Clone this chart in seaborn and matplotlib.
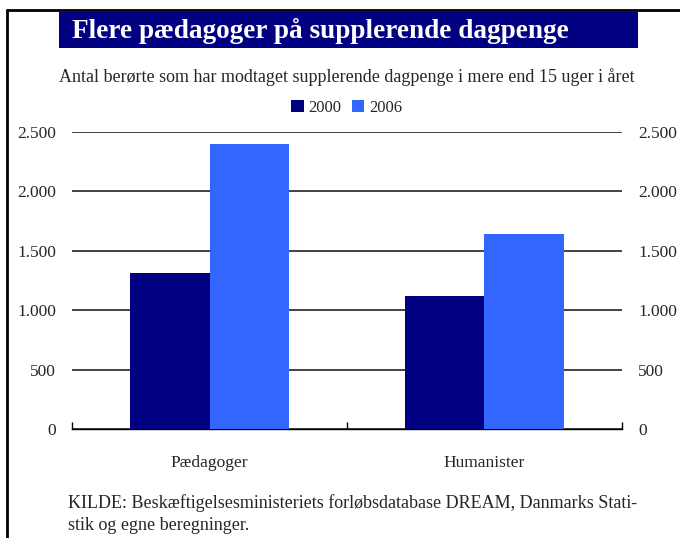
import pandas as pd
import seaborn as sns
import matplotlib.pyplot as plt
from matplotlib.patches import Rectangle, Patch
from matplotlib.lines import Line2D
from matplotlib.ticker import FuncFormatter, FixedLocator

# Data
groups = ["Pædagoger", "Humanister"]
years = ["2000", "2006"]
values_2000 = [1310, 1120]
values_2006 = [2400, 1640]
yticks = [0, 500, 1000, 1500, 2000, 2500]

df = pd.DataFrame({
    "Gruppe": groups * 2,
    "År": [years[0]] * 2 + [years[1]] * 2,
    "Antal": values_2000 + values_2006,
})

colors = {"2000": "#000080", "2006": "#3366FF"}

sns.set_style("white")
plt.rcParams["font.family"] = ["Liberation Serif", "DejaVu Serif"]

fig = plt.figure(figsize=(6.8, 5.38), dpi=100)
ax = fig.add_axes([0.1059, 0.2026, 0.8088, 0.552])

sns.barplot(data=df, x="Gruppe", y="Antal", hue="År", palette=colors,
            width=0.58, saturation=1, ax=ax, legend=False, zorder=3,
            linewidth=0, edgecolor="none")

ax.set_xlim(-0.5, 1.5)
ax.set_ylim(0, 2500)
ax.yaxis.set_major_locator(FixedLocator(yticks))
ax.yaxis.set_major_formatter(FuncFormatter(lambda v, p: f"{int(v):,}".replace(",", ".")))
ax.grid(axis="y", color="#222222", linewidth=1.2, zorder=0)
ax.set_axisbelow(True)

for s in ["top", "left", "right"]:
    ax.spines[s].set_visible(False)
ax.spines["bottom"].set_color("black")
ax.spines["bottom"].set_linewidth(1)

ax.set_xlabel("")
ax.set_ylabel("")
ax.tick_params(axis="y", left=False, right=False, labelleft=True, labelright=True,
               labelsize=12.5, pad=8)
ax.tick_params(axis="x", which="major", bottom=False, length=0, labelsize=12.5, pad=19)
ax.set_xticks([-0.5, 0.5, 1.5], minor=True)
ax.tick_params(axis="x", which="minor", bottom=True, direction="in", length=5,
               width=1, color="black")

# Legend
handles = [Patch(facecolor=colors[y], edgecolor="none", label=y) for y in years]
fig.legend(handles=handles, loc="center", bbox_to_anchor=(0.51, 0.8), ncol=2,
           frameon=False, fontsize=12, handlelength=0.75, handleheight=0.75,
           handletextpad=0.3, columnspacing=0.6)

# Title box
fig.patches.append(Rectangle((59 / 680, 1 - 48 / 538), 579 / 680, 36 / 538,
                             transform=fig.transFigure, facecolor="#000080",
                             edgecolor="none"))
fig.text(72 / 680, 1 - 31 / 538, "Flere pædagoger på supplerende dagpenge",
         color="white", fontsize=19.6, fontweight="bold", va="center", ha="left")

fig.text(0.51, 1 - 77 / 538,
         "Antal berørte som har modtaget supplerende dagpenge i mere end 15 uger i året",
         fontsize=13, ha="center", va="center")

fig.text(68 / 680, 1 - 503 / 538,
         "KILDE: Beskæftigelsesministeriets forløbsdatabase DREAM, Danmarks Stati-",
         fontsize=13, ha="left", va="center")
fig.text(68 / 680, 1 - 525 / 538, "stik og egne beregninger.",
         fontsize=13, ha="left", va="center")

# Frame lines
fig.add_artist(Line2D([7 / 680, 1], [1 - 10 / 538, 1 - 10 / 538],
                      transform=fig.transFigure, color="black", linewidth=2))
fig.add_artist(Line2D([7 / 680, 7 / 680], [0, 1 - 10 / 538],
                      transform=fig.transFigure, color="black", linewidth=2))

fig.savefig("out.png", dpi=100)
